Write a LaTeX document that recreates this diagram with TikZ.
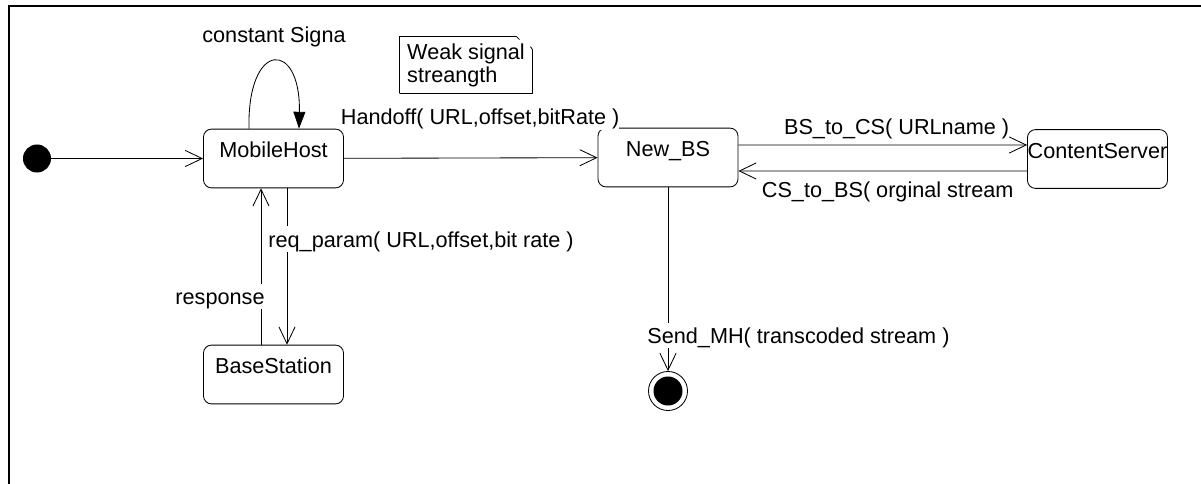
\documentclass[tikz,border=0pt]{standalone}
\usepackage{fontspec}
\setmainfont{Liberation Sans}
\usetikzlibrary{arrows.meta}

\begin{document}
\begin{tikzpicture}[x=0.025cm, y=-0.025cm, line width=0.6pt,
    every node/.style={font=\fontsize{15.4}{16.3}\selectfont},
    state/.style={draw, rounded corners=0.2cm, minimum width=3.5cm, inner xsep=0pt, inner ysep=0pt, text height=20.4pt, text depth=21.4pt},
    lbl/.style={fill=white, inner sep=0pt, text height=14.9pt, text depth=3.3pt},
    final/.style={circle, draw, minimum size=0.975cm, inner sep=0pt, path picture={\fill[black] (path picture bounding box.center) circle (0.3625cm);}},
    >={Straight Barb[length=12pt,width=11.5pt]}]
            \useasboundingbox (0,0) rectangle (1201,484);
            \draw[line width=1.4pt] (1201,6) -- (9,6) -- (9,484);
            \node[circle, fill=black, minimum size=0.7cm, inner sep=0pt] (init) at (37,158.5) {};
            \node[state] (mh) at (273.5,158.5) {MobileHost};
            \node[state] (bs) at (273.5,374.5) {BaseStation};
            \node[state] (nbs) at (668,157.5) {New\_BS};
            \node[state] (cs) at (1097.5,159) {ContentServer};
            \node[final] (fin) at (668,391) {};
            \node[align=left, minimum width=3.3cm, minimum height=1.4cm, inner sep=0pt] (note) at (466,65) {Weak signal\\streangth};
              \draw (note.south west) -- (note.north west) -- ([xshift=-0.4cm]note.north east) -- ++(3,3);
              \draw ([xshift=-0.05cm,yshift=-0.25cm]note.north east) -- ([yshift=-0.325cm]note.north east) -- (note.south east) -- (note.south west);
            \draw[->] (init) -- (mh);
            \draw[-{Triangle[length=12pt,width=8.5pt]}] ([xshift=-0.6125cm]mh.north) .. controls +(-2,-89) and +(2,-89) .. node[lbl, anchor=base, pos=0.5, yshift=0.475cm] {constant Signa} ([xshift=0.6375cm]mh.north);
            \draw[->] (mh) -- node[lbl, anchor=base, pos=0.537, yshift=0.825cm] {Handoff( URL,offset,bitRate )} (nbs);
            \draw[->] ([xshift=0.3375cm]mh.south) -- node[lbl, anchor=base west, pos=0.376, xshift=-0.475cm] {req\_param( URL,offset,bit rate )} ([xshift=0.3375cm]bs.north);
            \draw[->] ([xshift=-0.3125cm]bs.north) -- node[lbl, anchor=base east, pos=0.255, xshift=0.1cm] {response} ([xshift=-0.3125cm]mh.south);
            \draw[->] ([yshift=0.3125cm]nbs.east) -- node[lbl, anchor=base, pos=0.548, yshift=0.25cm] {BS\_to\_CS( URLname )} ([yshift=0.35cm]cs.west);
            \draw[->] ([yshift=-0.3cm]cs.west) -- node[lbl, anchor=base, pos=0.483, yshift=-0.65cm] {CS\_to\_BS( orginal stream} ([yshift=-0.3375cm]nbs.east);
            \draw[->] (nbs) -- node[lbl, anchor=base west, pos=0.851, xshift=-0.525cm] {Send\_MH( transcoded stream )} (fin);
        \end{tikzpicture}
\end{document}
